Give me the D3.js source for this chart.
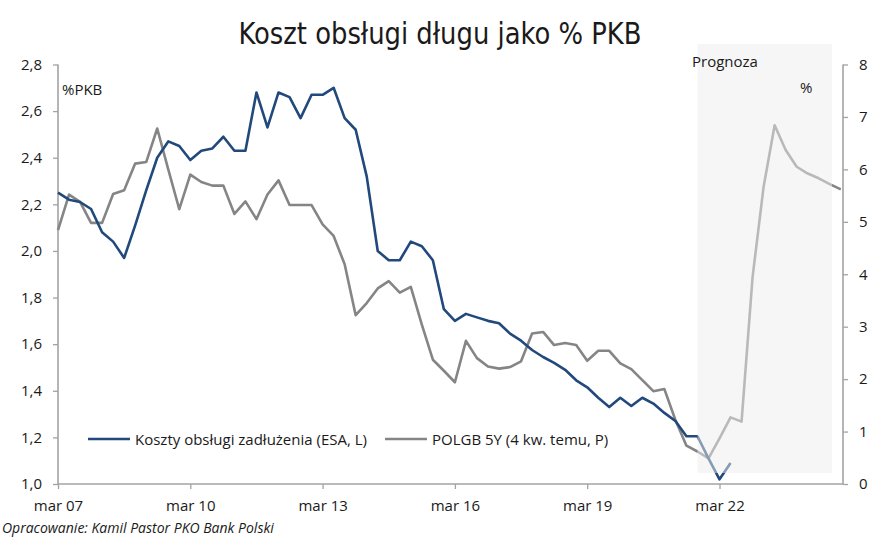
<!DOCTYPE html>
<html>
<head>
<meta charset="utf-8">
<script src="https://cdn.jsdelivr.net/npm/d3@7"></script>
<style>
  body { margin: 0; background: #fff; }
  svg { display: block; }
  text { font-family: "Open Sans", "DejaVu Sans", sans-serif; fill: #1a1a1a; }
</style>
</head>
<body>
<svg id="chart" width="880" height="540"></svg>
<script>
// ---- DATA ----
const titleText = "Koszt obsługi długu jako % PKB";
const sourceText = "Opracowanie: Kamil Pastor PKO Bank Polski";
// quarterly index 0 = mar 07 (Q1 2007) ... 71 = Q4 2024
const xTickIndex = [0, 12, 24, 36, 48, 60];
const xTickLabels = ["mar 07", "mar 10", "mar 13", "mar 16", "mar 19", "mar 22"];
const leftTicks = [1.0, 1.2, 1.4, 1.6, 1.8, 2.0, 2.2, 2.4, 2.6, 2.8];
const rightTicks = [0, 1, 2, 3, 4, 5, 6, 7, 8];
const seriesNames = ["Koszty obsługi zadłużenia (ESA, L)", "POLGB 5Y (4 kw. temu, P)"];
// Koszty obsługi zadłużenia, % PKB (left axis)
const debtCost = [2.25, 2.22, 2.21, 2.18, 2.08, 2.04, 1.97, 2.11, 2.26, 2.40,
  2.47, 2.45, 2.39, 2.43, 2.44, 2.49, 2.43, 2.43, 2.68, 2.53,
  2.68, 2.66, 2.57, 2.67, 2.67, 2.70, 2.57, 2.52, 2.32, 2.00,
  1.96, 1.96, 2.04, 2.02, 1.96, 1.75, 1.70, 1.73, 1.715, 1.70,
  1.69, 1.645, 1.615, 1.575, 1.545, 1.52, 1.49, 1.445, 1.415, 1.37,
  1.33, 1.37, 1.335, 1.37, 1.345, 1.305, 1.27, 1.205, 1.205, 1.11,
  1.02, 1.09];
// POLGB 5Y yield 4 quarters earlier, % (right axis)
const polgb5y = [4.84, 5.52, 5.38, 4.98, 4.98, 5.53, 5.60, 6.11, 6.14, 6.78,
  6.00, 5.24, 5.90, 5.76, 5.69, 5.69, 5.15, 5.39, 5.05, 5.52,
  5.79, 5.32, 5.32, 5.32, 4.95, 4.73, 4.19, 3.22, 3.45, 3.73,
  3.87, 3.65, 3.76, 3.04, 2.37, 2.16, 1.94, 2.73, 2.40, 2.24,
  2.20, 2.23, 2.34, 2.87, 2.90, 2.65, 2.69, 2.65, 2.35, 2.54,
  2.54, 2.30, 2.19, 1.98, 1.77, 1.81, 1.22, 0.73, 0.62, 0.49,
  0.87, 1.27, 1.19, 3.95, 5.67, 6.84, 6.37, 6.05, 5.92, 5.83,
  5.72, 5.62];
const forecastStart = 58.0;   // quarter index where the "Prognoza" band starts
const forecastEnd = 70.2;

// ---- CHART ----
const svg = d3.select("#chart");
const pLeft = 58, pRight = 843, pTop = 64.5, pBottom = 484;

const x = d3.scaleLinear().domain([0, 71.2]).range([pLeft, pRight]);
const yL = d3.scaleLinear().domain([1.0, 2.8]).range([pBottom, pTop]);
const yR = d3.scaleLinear().domain([0, 8]).range([pBottom, pTop]);

const axisColor = "#a3a3a3";
const blue = "#21497b";
const gray = "#858585";
const fs = "15px";

// title
svg.append("text")
  .attr("x", 440).attr("y", 43.5)
  .attr("text-anchor", "middle")
  .attr("textLength", 403).attr("lengthAdjust", "spacingAndGlyphs")
  .style("font-family", "'DejaVu Sans Condensed', 'DejaVu Sans', sans-serif")
  .style("font-stretch", "condensed")
  .style("font-size", "31px")
  .text(titleText);

// left axis
const gL = svg.append("g").attr("transform", `translate(${pLeft},0)`)
  .call(d3.axisLeft(yL).tickValues(leftTicks).tickSize(5).tickPadding(11)
    .tickFormat(d => d3.format(".1f")(d).replace(".", ",")));
// right axis
const gR = svg.append("g").attr("transform", `translate(${pRight},0)`)
  .call(d3.axisRight(yR).tickValues(rightTicks).tickSize(5).tickPadding(11)
    .tickFormat(d3.format("d")));
// bottom axis
const gB = svg.append("g").attr("transform", `translate(0,${pBottom})`)
  .call(d3.axisBottom(x).tickValues(xTickIndex).tickSize(5).tickPadding(11)
    .tickFormat((d, i) => xTickLabels[i]));

[gL, gR, gB].forEach(g => {
  g.select(".domain").attr("stroke", axisColor).attr("stroke-width", 1.6);
  g.selectAll(".tick line").attr("stroke", axisColor).attr("stroke-width", 1.3);
  g.selectAll(".tick text")
    .style("font-family", "'Open Sans', sans-serif")
    .style("font-size", fs).attr("fill", "#1a1a1a");
});
gL.select(".domain").attr("d", `M0,${pTop}V${pBottom}`);
gR.select(".domain").attr("d", `M0,${pTop}V${pBottom}`);
gB.select(".domain").attr("d", `M${pLeft},0H${pRight}`);

// lines
const lineL = d3.line().x((d, i) => x(i)).y(d => yL(d));
const lineR = d3.line().x((d, i) => x(i)).y(d => yR(d));

svg.append("path").datum(polgb5y)
  .attr("d", lineR).attr("fill", "none")
  .attr("stroke", gray).attr("stroke-width", 2.6).attr("stroke-linejoin", "round");
svg.append("path").datum(debtCost)
  .attr("d", lineL).attr("fill", "none")
  .attr("stroke", blue).attr("stroke-width", 2.6).attr("stroke-linejoin", "round");

// forecast band (semi-transparent overlay)
svg.append("rect")
  .attr("x", x(forecastStart)).attr("y", 44)
  .attr("width", x(forecastEnd) - x(forecastStart))
  .attr("height", 473 - 44)
  .attr("fill", "rgb(238,238,238)").attr("fill-opacity", 0.5);

// annotations
svg.append("text").attr("x", 692).attr("y", 67)
  .style("font-size", fs).text("Prognoza");
svg.append("text").attr("x", 800).attr("y", 93)
  .style("font-size", fs).text("%");
svg.append("text").attr("x", 62).attr("y", 95)
  .style("font-size", fs).text("%PKB");

// legend
const legend = [
  { name: seriesNames[0], color: blue, x0: 88 },
  { name: seriesNames[1], color: gray, x0: 385 }
];
legend.forEach(l => {
  svg.append("line").attr("x1", l.x0).attr("x2", l.x0 + 42)
    .attr("y1", 439).attr("y2", 439)
    .attr("stroke", l.color).attr("stroke-width", 2.6);
  svg.append("text").attr("x", l.x0 + 47).attr("y", 444.5)
    .style("font-size", fs).text(l.name);
});

// source
svg.append("text").attr("x", 2).attr("y", 533)
  .attr("text-anchor", "start")
  .style("font-size", "14px").style("font-style", "italic")
  .text(sourceText);
</script>
</body>
</html>
